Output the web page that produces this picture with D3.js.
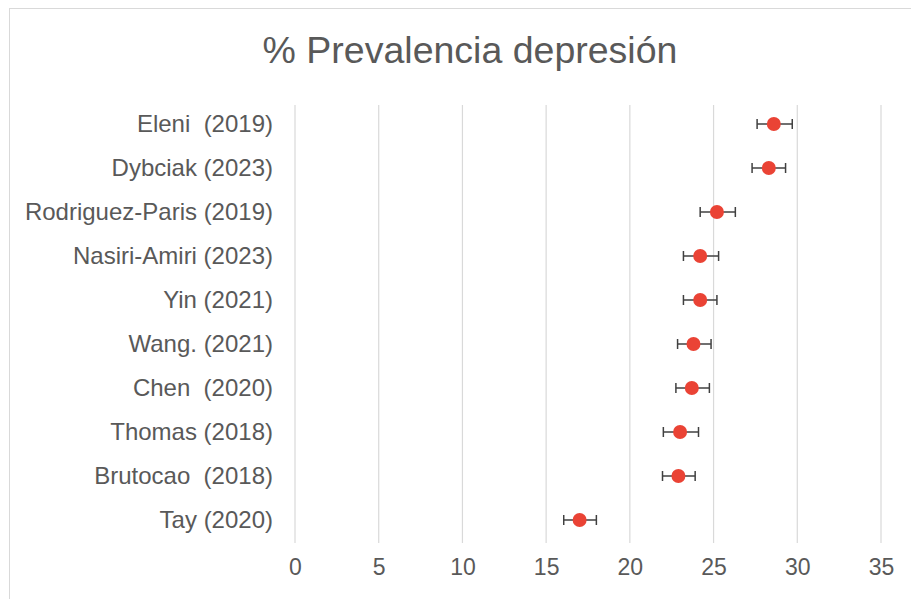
<!DOCTYPE html>
<html>
<head>
<meta charset="utf-8">
<script src="https://cdn.jsdelivr.net/npm/d3@7"></script>
<style>
  body { margin: 0; background: #fff; }
  svg { font-family: "Liberation Sans", Arial, sans-serif; }
</style>
</head>
<body>
<svg width="911" height="599"></svg>
<script>
var studies = ["Eleni  (2019)", "Dybciak (2023)", "Rodriguez-Paris (2019)", "Nasiri-Amiri (2023)",
               "Yin (2021)", "Wang. (2021)", "Chen  (2020)", "Thomas (2018)", "Brutocao  (2018)", "Tay (2020)"];
var prevalence = [28.6, 28.3, 25.2, 24.2, 24.2, 23.8, 23.7, 23.0, 22.9, 17.0];
var errLow = [1.0, 1.0, 1.0, 1.0, 1.0, 0.95, 0.95, 1.0, 0.95, 0.95];
var errHigh = [1.1, 1.0, 1.1, 1.1, 1.0, 1.05, 1.05, 1.1, 1.0, 1.0];
var xTicks = [0, 5, 10, 15, 20, 25, 30, 35];

var svg = d3.select("svg");

// chart frame
svg.append("rect")
    .attr("x", 9.5).attr("y", 8.5)
    .attr("width", 940).attr("height", 640)
    .attr("fill", "none").attr("stroke", "#d9d9d9");

svg.append("text")
    .attr("x", 470).attr("y", 63)
    .attr("text-anchor", "middle")
    .style("font-size", "37.5px")
    .style("fill", "#595959")
    .text("% Prevalencia depresión");

var x = d3.scaleLinear().domain([0, 35]).range([295, 881]);
var y = d3.scaleBand().domain(studies).range([102, 542]);

// gridlines
svg.append("g").selectAll("line")
    .data(xTicks)
    .enter().append("line")
    .attr("x1", function(d) { return x(d); })
    .attr("x2", function(d) { return x(d); })
    .attr("y1", 105).attr("y2", 543)
    .attr("stroke", "#d9d9d9").attr("stroke-width", 1.2);

var xAxis = svg.append("g")
    .attr("transform", "translate(0,543)")
    .call(d3.axisBottom(x).tickValues(xTicks).tickSize(0).tickPadding(16));
xAxis.select(".domain").remove();
xAxis.selectAll("text")
    .style("font-size", "23px")
    .style("fill", "#595959")
    .style("font-family", "Liberation Sans, Arial, sans-serif");

var yAxis = svg.append("g")
    .attr("transform", "translate(282,0)")
    .call(d3.axisLeft(y).tickSize(0).tickPadding(9));
yAxis.select(".domain").remove();
yAxis.selectAll("text")
    .style("font-size", "24px")
    .style("white-space", "pre")
    .style("fill", "#595959")
    .style("font-family", "Liberation Sans, Arial, sans-serif");

var rows = svg.append("g").selectAll("g")
    .data(studies)
    .enter().append("g")
    .attr("transform", function(d) { return "translate(0," + (y(d) + y.bandwidth() / 2) + ")"; });

rows.append("line")
    .attr("x1", function(d, i) { return x(prevalence[i] - errLow[i]); })
    .attr("x2", function(d, i) { return x(prevalence[i] + errHigh[i]); })
    .attr("stroke", "#404040").attr("stroke-width", 1.5);

rows.append("line")
    .attr("x1", function(d, i) { return x(prevalence[i] - errLow[i]); })
    .attr("x2", function(d, i) { return x(prevalence[i] - errLow[i]); })
    .attr("y1", -5).attr("y2", 5)
    .attr("stroke", "#404040").attr("stroke-width", 1.5);

rows.append("line")
    .attr("x1", function(d, i) { return x(prevalence[i] + errHigh[i]); })
    .attr("x2", function(d, i) { return x(prevalence[i] + errHigh[i]); })
    .attr("y1", -5).attr("y2", 5)
    .attr("stroke", "#404040").attr("stroke-width", 1.5);

rows.append("circle")
    .attr("cx", function(d, i) { return x(prevalence[i]); })
    .attr("r", 7)
    .attr("fill", "#ea4335");
</script>
</body>
</html>
